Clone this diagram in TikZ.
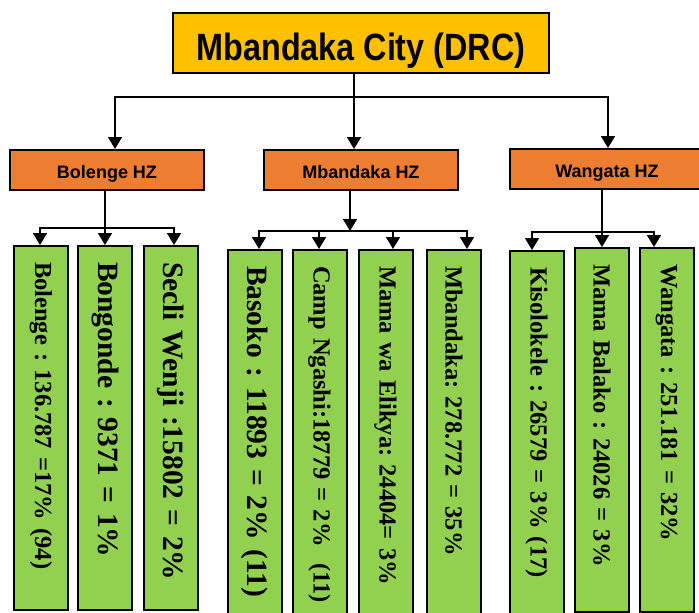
\documentclass[tikz,border=0pt]{standalone}
\usepackage{fontspec}
\setmainfont{Liberation Serif}
\setsansfont{Liberation Sans}
\newfontfamily\narrowsans{Liberation Sans}[FakeStretch=0.85]
\usetikzlibrary{arrows.meta, positioning, calc}
\definecolor{cityyellow}{RGB}{255, 192, 0}
\definecolor{zoneorange}{RGB}{237, 125, 49}
\definecolor{wardgreen}{RGB}{146, 208, 80}
\frenchspacing

\begin{document}
\begin{tikzpicture}[
    x=1pt, y=-1pt,
    citybox/.style={rectangle, draw=black, line width=2pt, fill=cityyellow, minimum width=376pt, minimum height=60pt, inner sep=0pt, text height=34pt, text depth=0pt, font=\narrowsans\bfseries\fontsize{38}{42}\selectfont},
    zonebox/.style={rectangle, draw=black, line width=2pt, fill=zoneorange, minimum width=194pt, minimum height=40pt, inner sep=0pt, text height=16pt, text depth=0pt, font=\sffamily\bfseries\fontsize{18}{22}\selectfont},
    wardbox/.style={rectangle, draw=black, line width=2pt, fill=wardgreen, rotate=-90, anchor=west, minimum width=364pt, minimum height=54pt, inner xsep=16pt, inner ysep=0pt, text width=332pt, align=left, font=\bfseries\fontsize{24.5}{28}\selectfont},
    bigward/.style={wardbox, font=\bfseries\fontsize{29.5}{34}\selectfont},
    link/.style={line width=1.6pt, line cap=rect},
    arrow/.style={link, -{Triangle[length=12pt, width=14pt]}}
]
    \useasboundingbox (0,0) rectangle (699,613);

    \node[citybox] (city) at (361,43) {Mbandaka City (DRC)};
    \node[zonebox] (bolenge) at (107,170) {Bolenge HZ};
    \node[zonebox] (mbandaka) at (361,170) {Mbandaka HZ};
    \node[zonebox] (wangata) at (607,169) {Wangata HZ};

    % Bolenge HZ
    \node[wardbox] (bolengeW) at (41,245) {\mbox{Bolenge : 136.787 =17\% (94)}};
    \node[bigward] (bongonde) at (105,245) {\mbox{Bongonde : 9371 = 1\%}};
    \node[bigward] (secli) at (170.5,245) {\mbox{Secli Wenji :15802 = 2\%}};
    % Mbandaka HZ
    \node[bigward] (basoko) at (255,249) {\mbox{Basoko : 11893 = 2\% (11)}};
    \node[wardbox] (camp) at (319.5,249) {\mbox{Camp Ngashi:18779 = 2\%\ \ (11)}};
    \node[wardbox] (elikya) at (385.5,249) {\mbox{Mama wa Elikya: 24404= 3\%}};
    \node[wardbox] (mbandakaW) at (454,249) {\mbox{Mbandaka: 278.772 = 35\%}};
    % Wangata HZ
    \node[wardbox] (kisolokele) at (536.5,250) {\mbox{Kisolokele : 26579 = 3\% (17)}};
    \node[wardbox] (balako) at (602,247) {\mbox{Mama Balako : 24026 = 3\%}};
    \node[wardbox] (wangataW) at (666.5,247) {\mbox{Wangata : 251.181 = 32\%}};

    \coordinate (cityfork) at (354,97);
    \coordinate (forkL) at (115,97);
    \coordinate (forkR) at (608,97);
    \draw[link] (forkL) -- (forkR);
    \draw[arrow] (city.south -| cityfork) -- (mbandaka.north -| cityfork);
    \draw[arrow] (forkL) -- (bolenge.north -| forkL);
    \draw[arrow] (forkR) -- (wangata.north -| forkR);

    \coordinate (bolengeL) at (40,228);
    \coordinate (bolengeR) at (174,228);
    \draw[arrow] (bolenge.south -| bongonde.west) -- (bongonde.west);
    \draw[arrow] (bolengeR) -- (bolengeL) -- (bolengeL |- bolengeW.west);
    \draw[arrow] (bolengeR) -- (bolengeR |- secli.west);

    \coordinate (mbandakaFork) at (350,231);
    \draw[arrow] (mbandaka.south -| mbandakaFork) -- (mbandakaFork);
    \draw[link] (259,0 |- mbandakaFork) -- (467,0 |- mbandakaFork);
    \foreach \x/\ward in {259/basoko, 319/camp, 393/elikya, 467/mbandakaW}
        \draw[arrow] (\x,0 |- mbandakaFork) -- (\x,0 |- \ward.west);

    \coordinate (wangataL) at (532,232);
    \coordinate (wangataR) at (654,232);
    \draw[arrow] (wangata.south -| balako.west) -- (balako.west);
    \draw[arrow] (wangataR) -- (wangataL) -- (wangataL |- kisolokele.west);
    \draw[arrow] (wangataR) -- (wangataR |- wangataW.west);

\end{tikzpicture}
\end{document}
